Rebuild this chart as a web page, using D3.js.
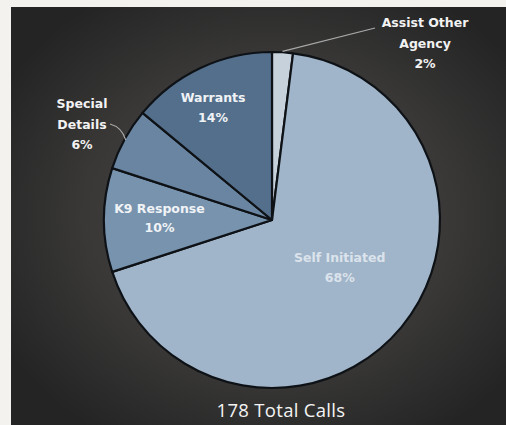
<!DOCTYPE html>
<html>
<head>
<meta charset="utf-8">
<script src="https://cdn.jsdelivr.net/npm/d3@7"></script>
<style>
html,body{margin:0;padding:0;background:#f3f2ee;}
svg{display:block;}
</style>
</head>
<body>
<svg id="chart" width="506" height="425"></svg>
<script>
const categories = ["Assist Other Agency", "Self Initiated", "K9 Response", "Special Details", "Warrants"];
const values = [2, 68, 10, 6, 14];
const percentLabels = ["2%", "68%", "10%", "6%", "14%"];
const totalLabel = "178 Total Calls";

const colors = ["#c6d1db", "#a0b5c9", "#7893ae", "#6a85a1", "#546f8b"];

const W = 506, H = 425;
const svg = d3.select("#chart");

const defs = svg.append("defs");
const grad = defs.append("radialGradient").attr("id", "bg")
  .attr("cx", "0.52").attr("cy", "0.5").attr("r", "0.62");
grad.append("stop").attr("offset", "0%").attr("stop-color", "#4b4a48");
grad.append("stop").attr("offset", "60%").attr("stop-color", "#393837");
grad.append("stop").attr("offset", "100%").attr("stop-color", "#242424");

svg.append("rect").attr("x", 0).attr("y", 0).attr("width", W).attr("height", H).attr("fill", "#f3f2ee");
svg.append("rect").attr("x", 11).attr("y", 7).attr("width", W - 11).attr("height", H - 7).attr("fill", "url(#bg)");

const cx = 272, cy = 220, R = 168;
const g = svg.append("g").attr("transform", `translate(${cx},${cy})`);

const data = categories.map((c, i) => ({ cat: c, value: values[i], pct: percentLabels[i], color: colors[i] }));
const pie = d3.pie().sort(null).value(d => d.value).startAngle(0).endAngle(2 * Math.PI);
const arcs = pie(data);
const arc = d3.arc().innerRadius(0).outerRadius(R);

g.selectAll("path.slice").data(arcs).enter().append("path")
  .attr("class", "slice")
  .attr("d", arc)
  .attr("fill", d => d.data.color)
  .attr("stroke", "#0e1216")
  .attr("stroke-width", 2.2)
  .attr("stroke-linejoin", "round");

const font = "'DejaVu Sans', 'Open Sans', sans-serif";

// inside labels
const insideRadius = { "Self Initiated": 0.5, "K9 Response": 0.67, "Warrants": 0.74 };
const insideShift = { "Self Initiated": [3, -8], "K9 Response": [0, -4], "Warrants": [-6, -2] };
arcs.forEach(a => {
  const rf = insideRadius[a.data.cat];
  if (rf === undefined) return;
  const la = d3.arc().innerRadius(R * rf).outerRadius(R * rf);
  let [x, y] = la.centroid(a);
  const s = insideShift[a.data.cat];
  x += s[0]; y += s[1];
  const self = a.data.cat === "Self Initiated";
  const t = g.append("text")
    .attr("x", x).attr("y", y)
    .attr("text-anchor", "middle")
    .attr("font-family", font)
    .attr("font-weight", 700)
    .attr("font-size", 12.5)
    .attr("fill", self ? "#e2e9f0" : "#f0f3f6")
    .attr("opacity", self ? 0.9 : 1);
  t.append("tspan").attr("x", x).attr("dy", "-0.25em").text(a.data.cat);
  t.append("tspan").attr("x", x).attr("dy", "1.55em").text(a.data.pct);
});

// outside labels with leaders
function outside(a, lines, lx, ly, leader) {
  const edge = d3.arc().innerRadius(R).outerRadius(R).centroid(a);
  g.append("path")
    .attr("d", leader(edge))
    .attr("fill", "none")
    .attr("stroke", "#a9a9a9")
    .attr("stroke-width", 1.2);
  const t = g.append("text")
    .attr("text-anchor", "middle")
    .attr("font-family", font)
    .attr("font-weight", 700)
    .attr("font-size", 12.5)
    .attr("fill", "#f2f2f2");
  lines.forEach((s, i) => t.append("tspan").attr("x", lx).attr("y", ly + i * 20.5).text(s));
}

const assist = arcs[0];
outside(assist, ["Assist Other", "Agency", assist.data.pct], 153, -193,
  (e) => `M${e[0]},${e[1] - 1}L${103},${-192}`);

const special = arcs[3];
outside(special, ["Special", "Details", special.data.pct], -190, -112,
  (e) => `M${e[0] + 1},${e[1] + 1}Q${e[0] - 3},${e[1] - 12} ${-162},${-96}`);

svg.append("text")
  .attr("x", 281).attr("y", 417)
  .attr("text-anchor", "middle")
  .attr("font-family", "'Open Sans', sans-serif")
  .attr("font-size", 18.5)
  .attr("letter-spacing", 0.3)
  .attr("fill", "#f4f4f4")
  .text(totalLabel);
</script>
</body>
</html>
